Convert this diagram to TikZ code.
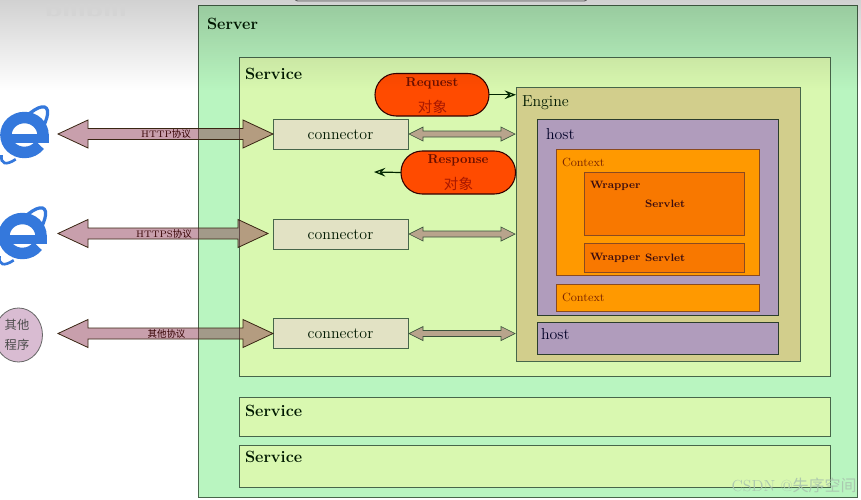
\documentclass[tikz,border=0pt]{standalone}
\usepackage{fontspec}
\newfontfamily\cjk{Noto Sans CJK SC}
\usetikzlibrary{calc,arrows.meta,fadings,shapes.geometric}
\definecolor{serverfill}{HTML}{B9F5C0}
\definecolor{servicefill}{HTML}{D9F8B0}
\definecolor{enginefill}{HTML}{D2CE8C}
\definecolor{hostfill}{HTML}{B09CBC}
\definecolor{contextfill}{HTML}{FF9900}
\definecolor{wrapperfill}{HTML}{F87800}
\definecolor{connfill}{HTML}{E2E2C4}
\definecolor{objfill}{HTML}{FF4B00}
\definecolor{edge}{HTML}{47664A}
\definecolor{brownedge}{HTML}{8A4A20}
\definecolor{iesblue}{HTML}{3478DC}
\definecolor{bigfill}{HTML}{872C47}
\definecolor{smallfill}{HTML}{B8A48C}
\definecolor{darkred}{HTML}{6B1000}
\definecolor{midred}{HTML}{A81800}
\definecolor{ctxtext}{HTML}{7A2400}
\definecolor{wraptext}{HTML}{3A0C10}
\definecolor{otherfill}{HTML}{D9BCD2}
\definecolor{markpale}{HTML}{A9C4AE}
\tikzset{
  bw/.style={minimum width=#1*0.75pt},
  bh/.style={minimum height=#1*0.75pt},
  bx/.style={rectangle,draw=edge,line width=0.75pt,anchor=north west,inner sep=0pt,outer sep=0pt},
  serverbox/.style={bx,fill=serverfill},
  servicebox/.style={bx,fill=servicefill},
  enginebox/.style={bx,fill=enginefill},
  hostbox/.style={bx,fill=hostfill,draw=black!40!edge},
  contextbox/.style={bx,fill=contextfill,draw=brownedge},
  wrapperbox/.style={bx,fill=wrapperfill,draw=brownedge},
  connbox/.style={bx,fill=connfill},
  objbox/.style={rectangle,rounded corners=15.9pt,fill=objfill,draw=black!80!red,line width=0.8pt,anchor=north west,inner sep=0pt,outer sep=0pt},
  lbl/.style={inner sep=0pt,outer sep=0pt,anchor=west},
  bigtitle/.style={lbl,font=\fontsize{12.2}{13}\bfseries\selectfont,text=black!90!green},
  plaintitle/.style={lbl,font=\fontsize{11.9}{13}\selectfont,text=black!90!green},
  hosttitle/.style={lbl,font=\fontsize{11.9}{13}\selectfont,text=black!85!blue},
  ctxtitle/.style={lbl,font=\fontsize{8.9}{10}\selectfont,text=ctxtext},
  wraptitle/.style={lbl,font=\fontsize{8}{9}\bfseries\selectfont,text=wraptext},
  objtitle/.style={inner sep=0pt,outer sep=0pt,font=\fontsize{9.7}{11}\bfseries\selectfont,text=darkred},
  objcjk/.style={inner sep=0pt,outer sep=0pt,font=\fontsize{10.9}{12}\cjk\selectfont,text=midred},
  protolabel/.style={inner sep=0pt,outer sep=0pt,font=\fontsize{7.1}{8}\selectfont,text=black!80!red},
  connlabel/.style={inner sep=0pt,font=\fontsize{11.9}{13}\selectfont,text=black!90!green},
  otherlabel/.style={inner sep=0pt,font=\fontsize{9.2}{11}\cjk\selectfont,text=black!70},
  dbl/.style n args={4}{to path={let \p1=(\tikztostart),\p2=(\tikztotarget) in
     (\x1+#4*0.75pt,\y1) -- (\x1+#4*0.75pt+#1*0.75pt,\y1+#2*0.75pt) -- (\x1+#4*0.75pt+#1*0.75pt,\y1+#3*0.75pt)
     -- (\x2-#4*0.75pt-#1*0.75pt,\y1+#3*0.75pt) -- (\x2-#4*0.75pt-#1*0.75pt,\y1+#2*0.75pt) -- (\x2-#4*0.75pt,\y1)
     -- (\x2-#4*0.75pt-#1*0.75pt,\y1-#2*0.75pt) -- (\x2-#4*0.75pt-#1*0.75pt,\y1-#3*0.75pt)
     -- (\x1+#4*0.75pt+#1*0.75pt,\y1-#3*0.75pt) -- (\x1+#4*0.75pt+#1*0.75pt,\y1-#2*0.75pt) -- cycle}},
  bigarrow/.style={dbl={30}{14}{5.5}{0},draw=black!70!brown,line width=0.6pt,fill=bigfill,fill opacity=0.45},
  smallarrow/.style={dbl={14}{7}{3}{1},draw=edge!80!black,line width=0.5pt,fill=smallfill},
  thinarrow/.style={-{Stealth[open,fill=servicefill,length=8.5pt,width=6.5pt,inset=3pt]},line width=0.9pt,draw=black!85!green},
  pics/ielogo/.style={code={
    \draw[iesblue,line width=2.4pt,rotate=52] ({26pt*cos(-60)},{8.5pt*sin(-60)}) arc[start angle=-60,end angle=75,x radius=26pt,y radius=8.5pt];
    \draw[iesblue,line width=2pt,rotate=52] ({26pt*cos(150)},{8.5pt*sin(150)}) arc[start angle=150,end angle=225,x radius=26pt,y radius=8.5pt];
    \draw[iesblue,line width=8.6pt] (18.5,0) arc[start angle=0,end angle=325,x radius=13.9pt,y radius=13.1pt];
    \fill[iesblue] (-15,-1) rectangle (24.5,8);
  }}
}
\tikzfading[name=topfade,top color=transparent!82,bottom color=transparent!100]
\begin{document}
\begin{tikzpicture}[x=0.75pt,y=-0.75pt]
\useasboundingbox (0,0) rectangle (861,500);
\fill[white] (0,0) rectangle (861,500);
% top sliver
\draw[fill=black!6,draw=black!55,line width=0.7pt,rounded corners=2pt] (295,-8) rectangle (587,1);
% logos
\pic at (24.5,135) {ielogo};
\pic at (22.5,236) {ielogo};
\node[ellipse,draw=black!60,line width=0.6pt,fill=otherfill,bw=48,bh=54,inner sep=0pt] (other) at (18.5,335) {};
\node[otherlabel] (othera) at (17,324.5) {其他};
\node[otherlabel] (otherb) at (17,345) {程序};
% containers
\node[serverbox,bw=658.5,bh=492] (server) at (198.5,5) {};
\node[servicebox,bw=591,bh=318.5] (service1) at (239,57.5) {};
\node[servicebox,bw=591,bh=38.5] (service2) at (239,397.5) {};
\node[servicebox,bw=591,bh=42] (service3) at (239,445) {};
\node[enginebox,bw=284,bh=274] (engine) at (516,87) {};
\node[hostbox,bw=241,bh=196] (host1) at (537,119) {};
\node[hostbox,bw=241,bh=32] (host2) at (537,322) {};
\node[contextbox,bw=203,bh=126] (context1) at (556,149) {};
\node[contextbox,bw=203,bh=27] (context2) at (556,284) {};
\node[wrapperbox,bw=160,bh=63] (wrapper1) at (584,172) {};
\node[wrapperbox,bw=160,bh=29] (wrapper2) at (584,243) {};
\node[connbox,bw=135,bh=30] (conn1) at (273,119) {};
\node[connbox,bw=135,bh=30] (conn2) at (273,219) {};
\node[connbox,bw=135,bh=30] (conn3) at (273,318.5) {};
\node[objbox,bw=114,bh=42.5] (request) at (375,73.5) {};
\node[objbox,bw=114.5,bh=43] (response) at (401,151) {};
% titles
\node[bigtitle] (tserver) at (207,24) {Server};
\node[bigtitle] (tservice1) at (245,74) {Service};
\node[bigtitle] (tservice2) at (245,410.5) {Service};
\node[bigtitle] (tservice3) at (245,456.5) {Service};
\node[plaintitle] (tengine) at (522,102.5) {Engine};
\node[hosttitle] (thost1) at (546,134.5) {host};
\node[hosttitle] (thost2) at (541,334) {host};
\node[ctxtitle] (tctx1) at (562,162) {Context};
\node[ctxtitle] (tctx2) at (562,297) {Context};
\node[wraptitle] (twrap1) at (590,185.5) {Wrapper};
\node[wraptitle] (tserv1) at (645,203.5) {Servlet};
\node[wraptitle] (twrap2) at (590,257.5) {Wrapper};
\node[wraptitle] (tserv2) at (645,257.5) {Servlet};
\node[connlabel] (lc1) at (340.5,135) {connector};
\node[connlabel] (lc2) at (340.5,234.5) {connector};
\node[connlabel] (lc3) at (340.5,334) {connector};
\node[objtitle] (treq) at (432,83.5) {Request};
\node[objcjk] (treqb) at (432.5,107) {对象};
\node[objtitle] (tresp) at (458,160.5) {Response};
\node[objcjk] (trespb) at (458.5,184) {对象};
% free ends
\coordinate (tipa) at (58,134);
\coordinate (tipb) at (58,233.5);
\coordinate (tipc) at (58,333.5);
\coordinate (tipd) at (268,233.5);
\coordinate (respout) at (374,172);
% big arrows
\draw[bigarrow] (tipa) to (conn1.west);
\draw[bigarrow] (tipb) to (tipd);
\draw[bigarrow] (tipc) to (conn3.west);
\node[protolabel] (p1) at (166,134) {HTTP{\cjk 协议}};
\node[protolabel] (p2) at (164,233.5) {HTTPS{\cjk 协议}};
\node[protolabel] (p3) at (166.5,333.5) {{\cjk 其他协议}};
% small arrows
\draw[smallarrow] (conn1.east) to (conn1.east -| engine.west);
\draw[smallarrow] (conn2.east) to (conn2.east -| engine.west);
\draw[smallarrow] (conn3.east) to (conn3.east -| engine.west);
% thin arrows
\draw[thinarrow] (request.east) -- (request.east -| engine.west);
\draw[thinarrow] (response.west) -- (respout);
% video shading on top
\fill[black,path fading=topfade] (0,0) rectangle (861,90);
% watermarks
\node[font=\fontsize{14}{15}\bfseries\sffamily\selectfont,text=black!17,inner sep=0pt] (wm1) at (86,10) {\scalebox{1.65}[1]{bilibili}};
\node[font=\fontsize{12}{14}\selectfont,text=markpale,opacity=0.9,inner sep=0pt,anchor=east] (wm2) at (857,485) {CSDN @{\cjk 失序空间}};
\end{tikzpicture}
\end{document}
